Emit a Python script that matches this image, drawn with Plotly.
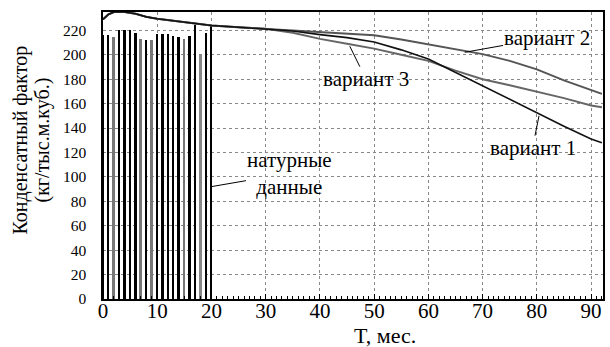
import plotly.graph_objects as go

# natural data (bars), months 0..20
bar_months = list(range(0, 21))
bar_values = [216, 216, 214.5, 220, 220, 220, 217.8, 213, 212, 212, 217,
              217, 216.7, 215, 214.5, 213, 215, 224, 199.5, 217.8, 224]
bar_colors = ["#000", "#000", "#777", "#000", "#000", "#000", "#000", "#777",
              "#000", "#777", "#000", "#000", "#000", "#000", "#000", "#777",
              "#000", "#000", "#888", "#000", "#000"]

# calculated variants
common_m = [0, 1, 2, 4, 6, 8, 10, 14, 17, 20, 25, 30]
common_v = [229, 233, 235, 235, 233.5, 231, 229.5, 227.5, 225.7, 224, 222.5, 221.3]

m_tail = [35, 40, 45, 50, 55, 60, 65, 70, 75, 80, 85, 90, 92]
v1_tail = [219.5, 216.5, 214, 210.5, 204, 196.5, 185.5, 174, 163, 152, 141.5, 131, 128]
v2_tail = [220, 219, 217.5, 216, 212.5, 208.5, 205, 200.5, 195, 188, 179, 171, 168]
v3_tail = [218, 213, 209, 205, 200, 195, 187, 180, 175, 170, 164.5, 158.5, 157]

months = common_m + m_tail
var1 = common_v + v1_tail
var2 = common_v + v2_tail
var3 = common_v + v3_tail

x_ticks = list(range(0, 100, 10))
y_ticks = list(range(0, 240, 20))

FONT = "Times New Roman, Liberation Serif, DejaVu Serif, serif"

fig = go.Figure()
fig.add_trace(go.Bar(x=bar_months, y=bar_values, width=0.36,
                     marker=dict(color=bar_colors, line=dict(width=0)),
                     showlegend=False))
fig.add_trace(go.Scatter(x=months, y=var2, mode="lines",
                         line=dict(color="#555", width=2), showlegend=False))
fig.add_trace(go.Scatter(x=months, y=var3, mode="lines",
                         line=dict(color="#666", width=2), showlegend=False))
fig.add_trace(go.Scatter(x=months, y=var1, mode="lines",
                         line=dict(color="#111", width=1.6), showlegend=False))

ann_font = dict(family=FONT, size=21, color="#000")
labels = [
    ("вариант 2", 66.7, 202, 81.8, 214),
    ("вариант 3", 45.5, 207, 48.5, 180),
    ("вариант 1", 80.4, 150, 79.2, 123.5),
    ("натурные<br>данные", 20, 92, 34.3, 103),
]
for text, x, y, ax, ay in labels:
    fig.add_annotation(x=x, y=y, ax=ax, ay=ay, axref="x", ayref="y",
                       text=text, showarrow=True, arrowhead=0, arrowwidth=1,
                       arrowcolor="#000", font=ann_font, borderpad=0)

fig.add_annotation(text="T, мес.", xref="paper", yref="paper", x=0.564, y=-0.127,
                   xanchor="center", yanchor="middle", showarrow=False,
                   font=dict(family=FONT, size=22, color="#000"))
fig.add_annotation(text="Конденсатный фактор", xref="paper", yref="paper",
                   x=-0.165, y=0.554, xanchor="center", yanchor="middle",
                   textangle=-90, showarrow=False,
                   font=dict(family=FONT, size=20, color="#000"))
fig.add_annotation(text="(кг/тыс.м.куб.)", xref="paper", yref="paper",
                   x=-0.121, y=0.554, xanchor="center", yanchor="middle",
                   textangle=-90, showarrow=False,
                   font=dict(family=FONT, size=20, color="#000"))

fig.update_layout(
    width=610, height=347,
    margin=dict(l=103, r=5, t=12, b=48),
    paper_bgcolor="white", plot_bgcolor="white",
    bargap=0,
    xaxis=dict(range=[0, 92.2], tickvals=x_ticks, ticks="inside", ticklen=5,
               tickcolor="#000", showline=True, linecolor="#000", linewidth=1.5,
               mirror=True, showgrid=True, gridcolor="#888", griddash="3px,3px",
               gridwidth=1, zeroline=False, ticklabelstandoff=-8,
               tickfont=dict(family=FONT, size=21, color="#000"),
               minor=dict(dtick=1, ticks="inside", ticklen=3, tickcolor="#000",
                          showgrid=False)),
    yaxis=dict(range=[0, 235], tickvals=y_ticks, ticks="", showline=True,
               linecolor="#000", linewidth=1.5, mirror=True, showgrid=True,
               gridcolor="#888", griddash="3px,3px", gridwidth=1, zeroline=False,
               ticklabelstandoff=12,
               tickfont=dict(family=FONT, size=15.5, color="#000")),
)

fig.write_html("out.html")
